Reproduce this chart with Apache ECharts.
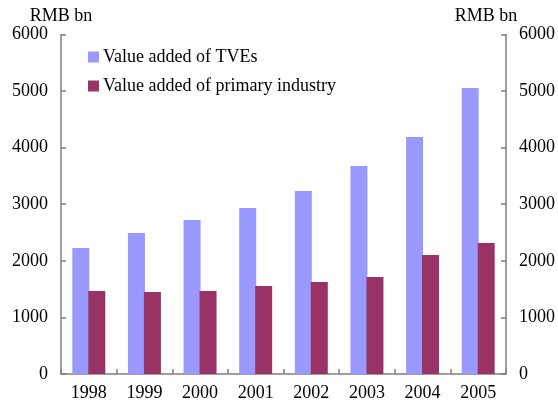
<!DOCTYPE html>
<html>
<head>
<meta charset="utf-8">
<script src="https://cdn.jsdelivr.net/npm/echarts@6/dist/echarts.min.js"></script>
<style>
    html, body { margin: 0; padding: 0; background: #fff; }
    #chart { width: 558px; height: 403px; }
</style>
</head>
<body>
<div id="chart"></div>
<script>
    // data
    const years = ['1998', '1999', '2000', '2001', '2002', '2003', '2004', '2005'];
    const tveValues = [2226, 2491, 2721, 2933, 3233, 3675, 4187, 5053];
    const primaryValues = [1466, 1449, 1466, 1555, 1625, 1714, 2102, 2314];
    const seriesNames = ['Value added of TVEs', 'Value added of primary industry'];

    const font = "'Liberation Serif', 'Times New Roman', serif";
    const axisColor = '#7f7f7f';

    const chart = echarts.init(document.getElementById('chart'));

    const yAxisBase = {
        type: 'value',
        min: 0,
        max: 6000,
        interval: 1000,
        name: 'RMB bn',
        nameLocation: 'end',
        nameGap: 7,
        nameTextStyle: { fontFamily: font, fontSize: 18, color: '#000' },
        axisLine: { show: true, lineStyle: { color: axisColor, width: 1.5 } },
        axisTick: { show: true, inside: true, length: 5, lineStyle: { color: axisColor, width: 1.5 } },
        axisLabel: { fontFamily: font, fontSize: 18, color: '#000', margin: 13, formatter: v => String(v) },
        splitLine: { show: false }
    };

    chart.setOption({
        animation: false,
        textStyle: { fontFamily: font },
        grid: {
            left: 61,
            right: 50,
            top: 34.4,
            bottom: 29,
            containLabel: false
        },
        legend: {
            orient: 'vertical',
            left: 88,
            top: 48,
            padding: 0,
            itemWidth: 11,
            itemHeight: 11,
            itemGap: 11,
            icon: 'rect',
            textStyle: { fontFamily: font, fontSize: 18, color: '#000', lineHeight: 18, padding: [0, 0, 0, -1] },
            data: seriesNames
        },
        xAxis: {
            type: 'category',
            data: years,
            axisLine: { lineStyle: { color: axisColor, width: 1.5 } },
            axisTick: { show: true, inside: true, length: 5, lineStyle: { color: axisColor, width: 1.5 } },
            axisLabel: { fontFamily: font, fontSize: 18, color: '#000', margin: 10 }
        },
        yAxis: [
            Object.assign({}, yAxisBase, { position: 'left' }),
            Object.assign({}, yAxisBase, {
                position: 'right',
                nameTextStyle: { fontFamily: font, fontSize: 18, color: '#000', padding: [0, 40, 0, 0] }
            })
        ],
        series: [
            {
                name: seriesNames[0],
                type: 'bar',
                yAxisIndex: 0,
                barWidth: 17,
                barGap: '-6%',
                itemStyle: { color: '#9999ff' },
                data: tveValues
            },
            {
                name: seriesNames[1],
                type: 'bar',
                yAxisIndex: 0,
                barWidth: 17,
                barGap: '-6%',
                itemStyle: { color: '#993366' },
                data: primaryValues
            }
        ]
    });
</script>
</body>
</html>
